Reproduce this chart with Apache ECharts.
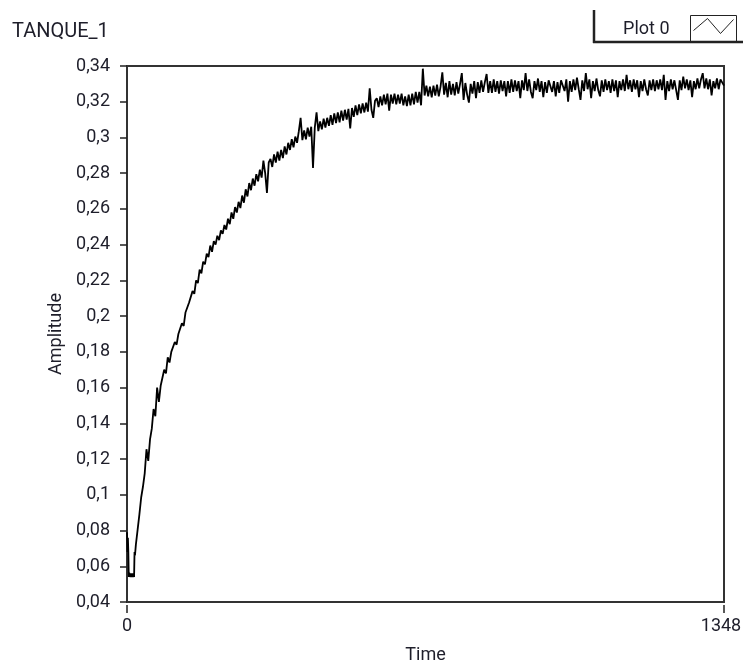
<!DOCTYPE html>
<html>
<head>
<meta charset="utf-8">
<script src="https://cdn.jsdelivr.net/npm/echarts@6/dist/echarts.min.js"></script>
<style>
html,body{margin:0;padding:0;background:#fff;}
#chart{width:743px;height:667px;}
</style>
</head>
<body>
<div id="chart"></div>
<script>
// ---- data ----
const chartTitle = 'TANQUE_1';
const seriesName = 'Plot 0';
const xAxisName = 'Time';
const yAxisName = 'Amplitude';
const xMin = 0, xMax = 1348;
const yMin = 0.04, yMax = 0.34, yStep = 0.02;

// first samples (dense)
const startTime = [0,1,2,3,4,5,6,7,8,9,10,11,12,13,14,15,16,17,18];
const startAmp = [0.079,0.068,0.076,0.068,0.054,0.0565,0.054,0.0555,0.054,0.056,0.054,0.0555,0.054,0.056,0.054,0.0555,0.054,0.068,0.066];

// remaining samples, every 4 time units from t = 20
const tailStartTime = 20;
const tailStep = 4;
const tailAmp = [
0.0720,0.0805,0.0890,0.0985,0.1045,0.1120,0.1255,0.1190,0.1310,0.1370,
0.1480,0.1440,0.1600,0.1520,0.1610,0.1600,0.1700,0.1680,0.1770,0.1740,
0.1800,0.1800,0.1855,0.1840,0.1900,0.1890,0.1960,0.1945,0.2020,0.2010,
0.2075,0.2065,0.2140,0.2125,0.2200,0.2185,0.2260,0.2240,0.2305,0.2290,
0.2350,0.2330,0.2395,0.2360,0.2420,0.2400,0.2450,0.2425,0.2480,0.2460,
0.2510,0.2485,0.2545,0.2515,0.2580,0.2545,0.2610,0.2580,0.2640,0.2605,
0.2675,0.2635,0.2710,0.2670,0.2745,0.2705,0.2770,0.2730,0.2795,0.2755,
0.2820,0.2775,0.2870,0.2800,0.2690,0.2860,0.2880,0.2835,0.2905,0.2860,
0.2920,0.2870,0.2930,0.2885,0.2950,0.2905,0.2970,0.2930,0.2990,0.2945,
0.3005,0.2970,0.3035,0.3110,0.2985,0.3040,0.2990,0.3055,0.3005,0.3060,
0.2830,0.3055,0.3140,0.3035,0.3090,0.3045,0.3105,0.3055,0.3110,0.3065,
0.3125,0.3070,0.3135,0.3080,0.3140,0.3085,0.3150,0.3095,0.3155,0.3100,
0.3160,0.3050,0.3165,0.3115,0.3180,0.3125,0.3185,0.3135,0.3190,0.3140,
0.3195,0.3145,0.3275,0.3155,0.3110,0.3205,0.3220,0.3170,0.3230,0.3180,
0.3240,0.3185,0.3245,0.3150,0.3240,0.3190,0.3245,0.3185,0.3240,0.3190,
0.3245,0.3180,0.3230,0.3175,0.3240,0.3180,0.3245,0.3185,0.3255,0.3195,
0.3255,0.3180,0.3385,0.3235,0.3290,0.3230,0.3285,0.3225,0.3290,0.3235,
0.3295,0.3230,0.3285,0.3365,0.3240,0.3305,0.3225,0.3315,0.3240,0.3300,
0.3235,0.3310,0.3245,0.3300,0.3360,0.3210,0.3305,0.3240,0.3195,0.3300,
0.3245,0.3315,0.3220,0.3310,0.3250,0.3320,0.3255,0.3310,0.3355,0.3250,
0.3315,0.3250,0.3325,0.3255,0.3315,0.3245,0.3320,0.3260,0.3315,0.3230,
0.3315,0.3250,0.3325,0.3255,0.3320,0.3260,0.3315,0.3220,0.3320,0.3265,
0.3360,0.3260,0.3325,0.3255,0.3220,0.3315,0.3265,0.3330,0.3255,0.3315,
0.3225,0.3310,0.3250,0.3320,0.3330,0.3255,0.3315,0.3230,0.3310,0.3250,
0.3320,0.3330,0.3260,0.3325,0.3200,0.3315,0.3255,0.3325,0.3265,0.3335,
0.3270,0.3210,0.3320,0.3260,0.3360,0.3270,0.3325,0.3220,0.3315,0.3260,
0.3330,0.3265,0.3230,0.3320,0.3255,0.3325,0.3265,0.3315,0.3250,0.3325,
0.3260,0.3320,0.3225,0.3315,0.3265,0.3325,0.3260,0.3350,0.3270,0.3320,
0.3255,0.3325,0.3270,0.3320,0.3225,0.3315,0.3260,0.3325,0.3270,0.3235,
0.3320,0.3265,0.3325,0.3260,0.3320,0.3270,0.3325,0.3265,0.3350,0.3210,
0.3315,0.3260,0.3325,0.3270,0.3320,0.3265,0.3210,0.3320,0.3265,0.3340,
0.3275,0.3325,0.3265,0.3320,0.3225,0.3315,0.3270,0.3330,0.3275,0.3325,
0.3360,0.3275,0.3330,0.3270,0.3325,0.3235,0.3315,0.3275,0.3330,0.3270,
0.3325,0.3330,0.3290
];

// ---- build series data ----
const seriesData = [];
startTime.forEach((t, i) => seriesData.push([t, startAmp[i]]));
tailAmp.forEach((v, i) => seriesData.push([tailStartTime + i * tailStep, v]));

const FONT = 'Roboto';
const TEXT = '#1e1e2a';

const chart = echarts.init(document.getElementById('chart'), null, {renderer: 'canvas'});
chart.setOption({
  animation: false,
  backgroundColor: '#ffffff',
  textStyle: {fontFamily: FONT},
  title: {
    text: chartTitle,
    left: 12, top: 22, padding: 0,
    textStyle: {fontFamily: FONT, fontSize: 20, fontWeight: 'normal', color: TEXT}
  },
  legend: {
    data: [seriesName],
    right: 4, top: 13, padding: 0,
    align: 'right',
    itemWidth: 46, itemHeight: 27,
    icon: 'path://M0,0L46,0L46,27L0,27Z M3,15L17,3L30,18L43,4',
    itemStyle: {color: 'none', borderColor: '#222', borderWidth: 1},
    textStyle: {fontFamily: FONT, fontSize: 18, color: TEXT, padding: [0, 16, 8, 0]},
    selectedMode: false
  },
  graphic: [
    {type: 'line', shape: {x1: 594, y1: 10, x2: 594, y2: 43}, style: {stroke: '#222', lineWidth: 2.5}},
    {type: 'line', shape: {x1: 593, y1: 42, x2: 743, y2: 42}, style: {stroke: '#222', lineWidth: 2.5}}
  ],
  grid: {
    left: 127, right: 19, top: 66, bottom: 65,
    show: true, borderColor: '#333', borderWidth: 2, backgroundColor: '#fff',
    containLabel: false,
    outerBoundsMode: 'none'
  },
  xAxis: {
    type: 'value',
    min: xMin, max: xMax, interval: xMax - xMin,
    offset: 3,
    name: xAxisName, nameLocation: 'middle', nameGap: 41,
    nameTextStyle: {fontFamily: FONT, fontSize: 18, color: TEXT},
    axisLine: {show: false},
    axisTick: {show: true, length: 8, lineStyle: {color: '#222', width: 1.5}},
    axisLabel: {
      margin: 12, fontFamily: FONT, fontSize: 18, color: TEXT,
      showMinLabel: true, showMaxLabel: true,
      formatter: v => (v === xMax ? '{r|' + String(v) + '}' : String(v)),
      rich: {r: {fontFamily: FONT, fontSize: 18, color: TEXT, padding: [0, 6, 0, 0]}}
    },
    splitLine: {show: false}
  },
  yAxis: {
    type: 'value',
    min: yMin, max: yMax, interval: yStep,
    offset: 4,
    name: yAxisName, nameLocation: 'middle', nameGap: 54,
    nameTextStyle: {fontFamily: FONT, fontSize: 18, color: TEXT},
    axisLine: {show: false},
    axisTick: {show: true, length: 7, lineStyle: {color: '#222', width: 1.5}},
    axisLabel: {
      margin: 13, fontFamily: FONT, fontSize: 18, color: TEXT,
      formatter: v => String(+v.toFixed(2)).replace('.', ',')
    },
    splitLine: {show: false}
  },
  series: [{
    name: seriesName,
    type: 'line',
    data: seriesData,
    showSymbol: false,
    symbol: 'none',
    lineStyle: {color: '#000', width: 1.8},
    itemStyle: {color: '#000'},
    clip: true
  }]
});
</script>
</body>
</html>
